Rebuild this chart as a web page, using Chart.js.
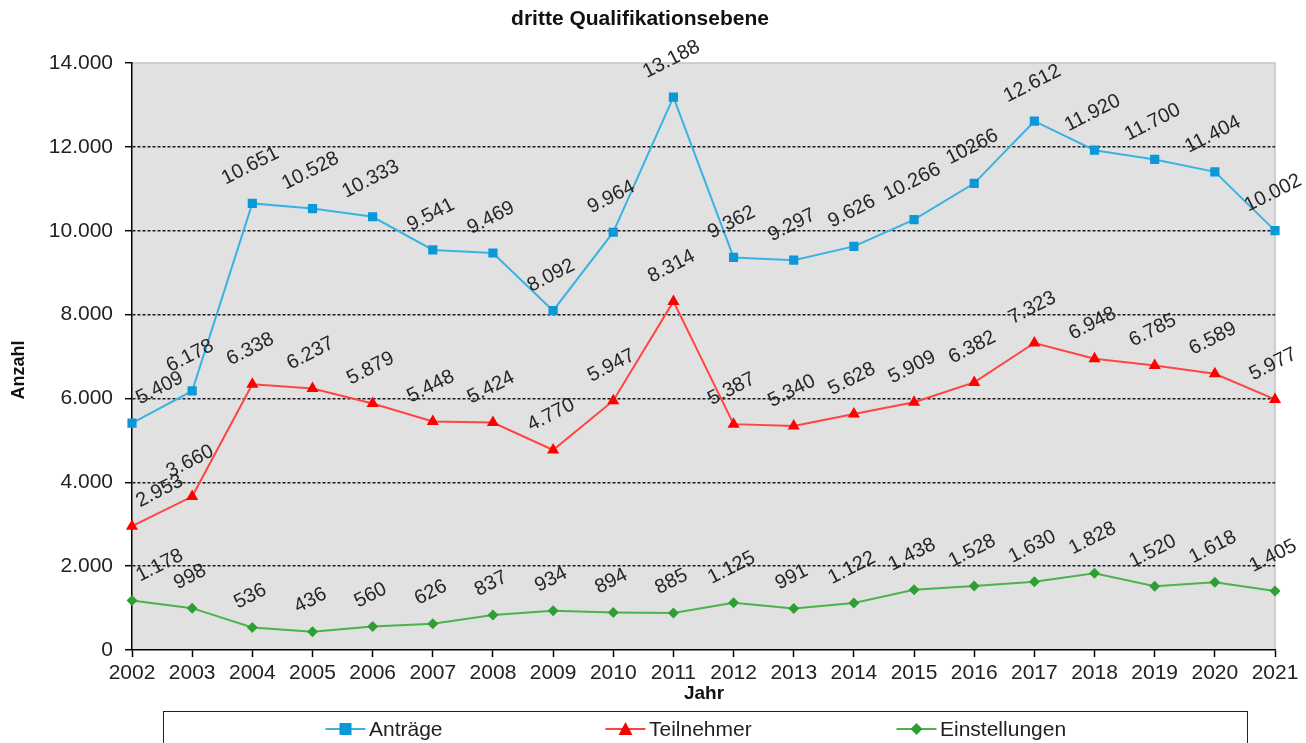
<!DOCTYPE html>
<html lang="de">
<head>
<meta charset="utf-8">
<title>dritte Qualifikationsebene</title>
<script src="https://cdn.jsdelivr.net/npm/chart.js@4"></script>
<style>
  html, body { margin: 0; padding: 0; background: #fff; overflow: hidden; }
  #wrap { position: relative; width: 1306px; height: 743px; }
  #legend {
    position: absolute; left: 163px; top: 711px; width: 1085px; height: 50px;
    border: 1.5px solid #222; box-sizing: border-box;
    font-family: "Liberation Sans", Arial, sans-serif; font-size: 21px; color: #222;
  }
  .item { position: absolute; top: 4px; display: flex; align-items: center; height: 26px; }
  .item svg { margin-right: 3px; }
</style>
</head>
<body>
<div id="wrap">
  <canvas id="chart" width="1306" height="743"></canvas>
  <div id="legend"></div>
</div>
<script>
// Daten
const years = ['2002', '2003', '2004', '2005', '2006', '2007', '2008', '2009', '2010', '2011',
               '2012', '2013', '2014', '2015', '2016', '2017', '2018', '2019', '2020', '2021'];
const antraege = [5409, 6178, 10651, 10528, 10333, 9541, 9469, 8092, 9964, 13188,
                  9362, 9297, 9626, 10266, 11130, 12612, 11920, 11700, 11404, 10002];
const teilnehmer = [2953, 3660, 6338, 6237, 5879, 5448, 5424, 4770, 5947, 8314,
                    5387, 5340, 5628, 5909, 6382, 7323, 6948, 6785, 6589, 5977];
const einstellungen = [1178, 998, 536, 436, 560, 626, 837, 934, 894, 885,
                       1125, 991, 1122, 1438, 1528, 1630, 1828, 1520, 1618, 1405];
// the original prints "10266" at 2016 although the point sits near 11.100
const printedLabelFix = { 0: { 14: '10266' } };

const FONT = '"Liberation Sans", Arial, sans-serif';

function fmt(v) {
    return String(v).replace(/\B(?=(\d{3})+(?!\d))/g, '.');
}

const series = [
    { label: 'Anträge', data: antraege, line: '#3ab2e2', mark: '#0a98d8', style: 'rect', radius: 6.5 },
    { label: 'Teilnehmer', data: teilnehmer, line: '#ff4444', mark: '#ff0000', style: 'triangle', radius: 7 },
    { label: 'Einstellungen', data: einstellungen, line: '#4cb34c', mark: '#2f9e35', style: 'rectRot', radius: 5.5 }
];

const plotBackground = {
    id: 'plotBackground',
    beforeDraw(chart) {
        const { ctx, chartArea: a } = chart;
        ctx.save();
        ctx.fillStyle = '#e1e1e1';
        ctx.fillRect(a.left, a.top, a.right - a.left, a.bottom - a.top);
        ctx.strokeStyle = '#c4c4c4';
        ctx.lineWidth = 1.5;
        ctx.beginPath();
        ctx.moveTo(a.left, a.top);
        ctx.lineTo(a.right, a.top);
        ctx.lineTo(a.right, a.bottom);
        ctx.stroke();
        ctx.restore();
    }
};

const texts = {
    id: 'texts',
    afterDraw(chart) {
        const { ctx } = chart;
        ctx.save();
        ctx.fillStyle = '#111';
        ctx.textAlign = 'center';
        ctx.textBaseline = 'middle';
        ctx.font = 'bold 21px ' + FONT;
        ctx.fillText('dritte Qualifikationsebene', 640, 19);
        ctx.font = 'bold 19px ' + FONT;
        ctx.fillText('Jahr', 704, 694);
        ctx.translate(19, 370);
        ctx.rotate(-Math.PI / 2);
        ctx.font = 'bold 18px ' + FONT;
        ctx.fillText('Anzahl', 0, 0);
        ctx.restore();
    }
};

const dataLabels = {
    id: 'dataLabels',
    afterDatasetsDraw(chart) {
        const { ctx, chartArea: area } = chart;
        const ang = -27 * Math.PI / 180;
        const cos = Math.cos(ang), sin = Math.abs(Math.sin(ang));
        ctx.save();
        ctx.font = '20px ' + FONT;
        ctx.fillStyle = '#262626';
        ctx.textAlign = 'center';
        ctx.textBaseline = 'middle';
        chart.data.datasets.forEach((ds, i) => {
            chart.getDatasetMeta(i).data.forEach((pt, j) => {
                const fix = printedLabelFix[i];
                const text = fix && fix[j] ? fix[j] : fmt(ds.data[j]);
                const w = ctx.measureText(text).width, h = 15;
                const halfW = (w * cos + h * sin) / 2;
                const halfH = (w * sin + h * cos) / 2;
                let cx = pt.x - 2;
                const cy = pt.y - 17 - halfH;
                if (cx - halfW < area.left) cx = area.left + halfW + 2;
                ctx.save();
                ctx.translate(cx, cy);
                ctx.rotate(ang);
                ctx.fillText(text, 0, 0);
                ctx.restore();
            });
        });
        ctx.restore();
    }
};

new Chart(document.getElementById('chart'), {
    type: 'line',
    data: {
        labels: years,
        datasets: series.map(s => ({
            label: s.label,
            data: s.data,
            borderColor: s.line,
            backgroundColor: s.mark,
            borderWidth: 2,
            pointStyle: s.style,
            pointRadius: s.radius,
            pointHoverRadius: s.radius,
            pointBorderWidth: 0,
            pointBackgroundColor: s.mark,
            tension: 0
        }))
    },
    options: {
        responsive: false,
        animation: false,
        layout: { padding: { top: 63, right: 31, left: 0, bottom: 0 } },
        plugins: {
            legend: { display: false },
            title: { display: false },
            tooltip: { enabled: false }
        },
        scales: {
            x: {
                offset: false,
                afterFit: scale => { scale.height = 93; },
                grid: { drawOnChartArea: false, drawTicks: true, tickLength: 7, tickColor: '#000', tickWidth: 1.5 },
                border: { color: '#000', width: 1.5 },
                ticks: { color: '#222', padding: 4, maxRotation: 0, autoSkip: false, font: { family: FONT, size: 21 } }
            },
            y: {
                min: 0,
                max: 14000,
                afterFit: scale => { scale.width = 132; },
                ticks: {
                    stepSize: 2000,
                    color: '#222',
                    padding: 12,
                    font: { family: FONT, size: 21 },
                    callback: v => fmt(v)
                },
                grid: {
                    color: c => (c.tick.value === 0 || c.tick.value === 14000) ? 'rgba(0,0,0,0)' : '#1a1a1a',
                    lineWidth: 1.4,
                    tickLength: 7,
                    tickColor: '#000',
                    tickWidth: 1.5
                },
                border: { color: '#000', width: 1.5, dash: [3, 2] }
            }
        }
    },
    plugins: [plotBackground, dataLabels, texts]
});

// Legende unten im Rahmen
const legendPos = [163, 443, 734];
const legend = document.getElementById('legend');
series.forEach((s, i) => {
    let shape;
    if (s.style === 'rect') shape = `<rect x="14" y="3" width="12" height="12" fill="${s.mark}"/>`;
    else if (s.style === 'triangle') shape = `<polygon points="20,2 27,15 13,15" fill="${s.mark}"/>`;
    else shape = `<polygon points="20,3 26,9 20,15 14,9" fill="${s.mark}"/>`;
    const item = document.createElement('div');
    item.className = 'item';
    item.style.left = (legendPos[i] - 2) + 'px';
    item.innerHTML = `<svg width="41" height="18" viewBox="0 0 40 18">
        <line x1="0" y1="9" x2="40" y2="9" stroke="${s.line}" stroke-width="2"/>${shape}</svg>
        <span>${s.label}</span>`;
    legend.appendChild(item);
});
</script>
</body>
</html>
